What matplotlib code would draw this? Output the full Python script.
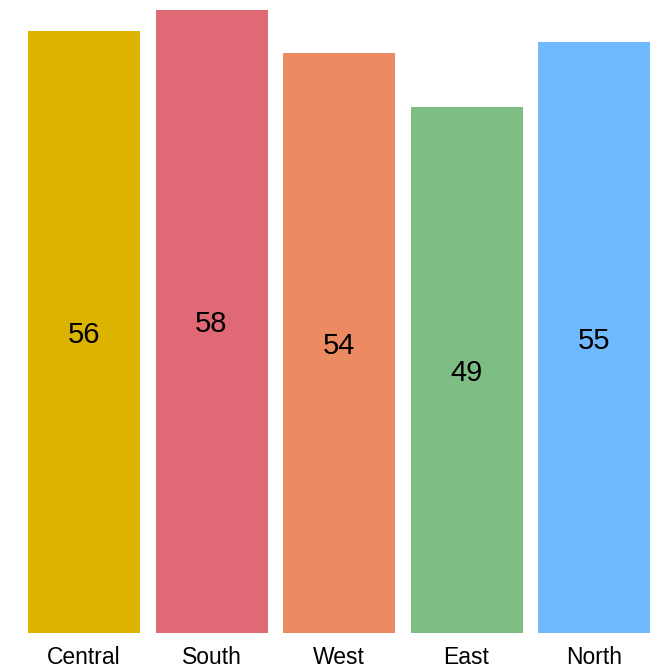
import matplotlib
matplotlib.use("Agg")
import matplotlib.pyplot as plt

categories = ["Central", "South", "West", "East", "North"]
values = [56, 58, 54, 49, 55]
colors = ["#DBB300", "#DF6A75", "#EC8B61", "#7EBE84", "#70B9FF"]

plt.rcParams['font.family'] = ['Liberation Sans', 'DejaVu Sans']

fig = plt.figure(figsize=(6.57, 6.67), dpi=100)
ax = fig.add_axes([0, 34 / 667, 1, 633 / 667])

x = list(range(len(categories)))
bars = ax.bar(x, values, width=112 / 127.5, color=colors)
for xi, v in zip(x, values):
    ax.text(xi, v / 2, str(v), ha="center", va="center_baseline", fontsize=21, color="black")

ax.set_xlim(-84 / 127.5, (657 - 84) / 127.5)
ax.set_ylim(0, 58.93)
ax.set_xticks(x)
ax.set_xticklabels(categories, fontsize=16.5)
ax.tick_params(axis="x", length=0, pad=9)
ax.set_yticks([])
for s in ax.spines.values():
    s.set_visible(False)

fig.savefig("out.png", dpi=100)
